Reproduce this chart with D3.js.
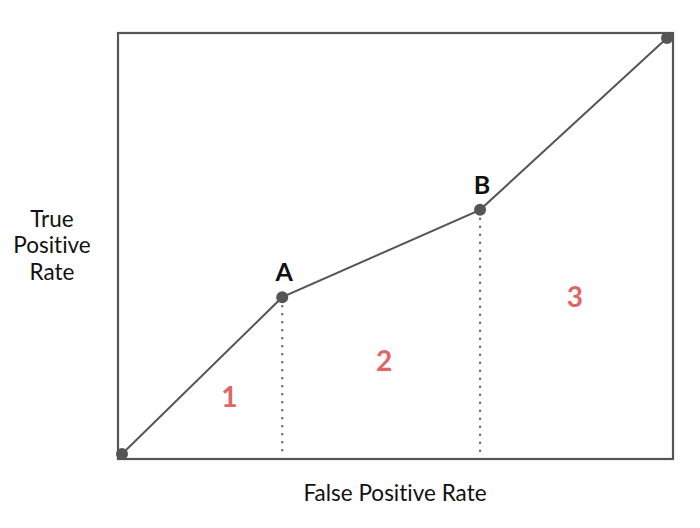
<!DOCTYPE html>
<html>
<head>
<meta charset="utf-8">
<script src="https://cdn.jsdelivr.net/npm/d3@7"></script>
<style>
  body { margin: 0; background: #fff; }
  svg { display: block; font-family: Lato, "Open Sans", sans-serif; font-variant-ligatures: none; }
</style>
</head>
<body>
<svg id="chart"></svg>
<script>
// ROC curve points (false positive rate, true positive rate)
var fpr = [0, 0.294, 0.657, 1];
var tpr = [0, 0.377, 0.587, 1];
var pointNames = ["", "A", "B", ""];

// region labels, placed in data coordinates
var regionNames = ["1", "2", "3"];
var regionFpr = [0.197, 0.481, 0.831];
var regionTpr = [0.113, 0.2, 0.354];

var width = 700, height = 528;

var svg = d3.select("#chart")
            .attr("width", width)
            .attr("height", height);

// frame around the plot area
var box = { left: 118, top: 33, right: 673, bottom: 459 };

var x = d3.scaleLinear().domain([0, 1]).range([122, 667]);
var y = d3.scaleLinear().domain([0, 1]).range([454, 38]);

svg.append("rect")
   .attr("x", box.left)
   .attr("y", box.top)
   .attr("width", box.right - box.left)
   .attr("height", box.bottom - box.top)
   .attr("fill", "none")
   .attr("stroke", "#555")
   .attr("stroke-width", 2.2);

// dotted drops from the named points down to the frame
var named = d3.range(fpr.length).filter(function(i) { return pointNames[i] !== ""; });

svg.selectAll("line.drop")
   .data(named)
   .enter()
   .append("line")
   .attr("class", "drop")
   .attr("x1", function(i) { return x(fpr[i]); })
   .attr("x2", function(i) { return x(fpr[i]); })
   .attr("y1", function(i) { return y(tpr[i]) + 8; })
   .attr("y2", box.bottom - 2)
   .attr("stroke", "#555")
   .attr("stroke-width", 2)
   .attr("stroke-dasharray", "2 6");

var line = d3.line()
             .x(function(i) { return x(fpr[i]); })
             .y(function(i) { return y(tpr[i]); });

svg.append("path")
   .datum(d3.range(fpr.length))
   .attr("d", line)
   .attr("fill", "none")
   .attr("stroke", "#555")
   .attr("stroke-width", 2);

svg.selectAll("circle")
   .data(d3.range(fpr.length))
   .enter()
   .append("circle")
   .attr("cx", function(i) { return x(fpr[i]); })
   .attr("cy", function(i) { return y(tpr[i]); })
   .attr("r", 6)
   .attr("fill", "#555");

svg.selectAll("text.point")
   .data(named)
   .enter()
   .append("text")
   .attr("class", "point")
   .attr("x", function(i) { return x(fpr[i]) + 2; })
   .attr("y", function(i) { return y(tpr[i]) - 16; })
   .attr("text-anchor", "middle")
   .attr("font-size", 25)
   .attr("font-weight", "bold")
   .attr("fill", "#111")
   .text(function(i) { return pointNames[i]; });

svg.selectAll("text.region")
   .data(regionNames)
   .enter()
   .append("text")
   .attr("class", "region")
   .attr("x", function(d, i) { return x(regionFpr[i]); })
   .attr("y", function(d, i) { return y(regionTpr[i]); })
   .attr("text-anchor", "middle")
   .attr("font-size", 28)
   .attr("font-weight", "bold")
   .attr("fill", "#e06666")
   .text(function(d) { return d; });

// axis titles
svg.append("text")
   .attr("x", 395)
   .attr("y", 501)
   .attr("text-anchor", "middle")
   .attr("font-size", 22.5)
   .attr("fill", "#111")
   .text("False Positive Rate");

var yTitle = ["True", "Positive", "Rate"];
svg.selectAll("text.ytitle")
   .data(yTitle)
   .enter()
   .append("text")
   .attr("class", "ytitle")
   .attr("x", 52)
   .attr("y", function(d, i) { return 227 + i * 26.3; })
   .attr("text-anchor", "middle")
   .attr("font-size", 22.5)
   .attr("fill", "#111")
   .text(function(d) { return d; });
</script>
</body>
</html>
